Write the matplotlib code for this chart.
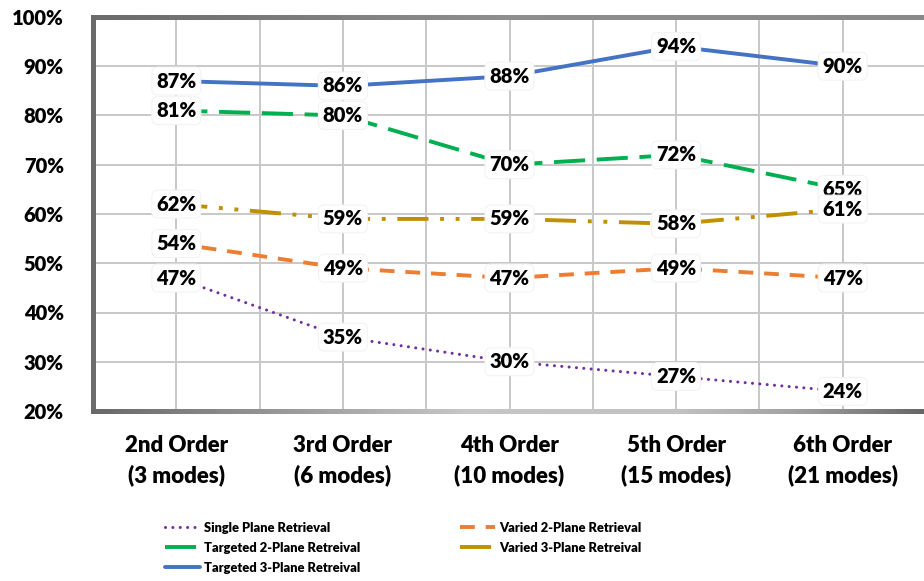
import matplotlib
matplotlib.use("Agg")
import numpy as np
import matplotlib.pyplot as plt
from matplotlib.collections import LineCollection
from matplotlib.colors import LinearSegmentedColormap
from matplotlib.ticker import FixedLocator

# ---- data -------------------------------------------------------------
categories = ["2nd Order\n(3 modes)", "3rd Order\n(6 modes)", "4th Order\n(10 modes)",
              "5th Order\n(15 modes)", "6th Order\n(21 modes)"]
single_plane = [47, 35, 30, 27, 24]
varied_2plane = [54, 49, 47, 49, 47]
targeted_2plane = [81, 80, 70, 72, 65]
varied_3plane = [62, 59, 59, 58, 61]
targeted_3plane = [87, 86, 88, 94, 90]
y_ticks = [20, 30, 40, 50, 60, 70, 80, 90, 100]

series_names = ["Single Plane Retrieval", "Varied 2-Plane Retrieval",
                "Targeted 2-Plane Retreival", "Varied 3-Plane Retreival",
                "Targeted 3-Plane Retreival"]

FONT = ["Lato", "DejaVu Sans"]
WEIGHT = "heavy"
plt.rcParams["font.family"] = FONT
plt.rcParams["font.weight"] = WEIGHT

fig = plt.figure(figsize=(9.24, 5.81), dpi=100)
W, H = 924, 581
ax = fig.add_axes([93 / W, 1 - 411 / H, 833 / W, 394 / H])

x = list(range(len(categories)))

styles = [
    dict(color="#7030A0", lw=2.2, dashes=(0.01, 2.4), dash_capstyle="round"),
    dict(color="#ED7D31", lw=2.8, dashes=(3.8, 2.8), dash_capstyle="butt"),
    dict(color="#00B050", lw=2.8, dashes=(8, 3), dash_capstyle="butt"),
    dict(color="#BF9000", lw=2.8, dashes=(8, 3, 1, 3, 1, 3), dash_capstyle="butt"),
    dict(color="#4472C4", lw=2.8, linestyle="-", solid_capstyle="round"),
]
all_series = [single_plane, varied_2plane, targeted_2plane, varied_3plane, targeted_3plane]

handles = []
for vals, st, name in zip(all_series, styles, series_names):
    ln, = ax.plot(x, vals, zorder=3, label=name, **st)
    handles.append(ln)

for vals in all_series:
    for xi, v in zip(x, vals):
        ax.text(xi, v, f"{v}%", ha="center", va="center", fontsize=14.5,
                fontweight=WEIGHT, color="black", zorder=5,
                bbox=dict(boxstyle="round,pad=0.22,rounding_size=0.3",
                          fc="white", ec="#f3f3f3", lw=0.8))

ax.set_xlim(-0.5, len(categories) - 0.5)
ax.set_ylim(20, 100)

ax.yaxis.set_major_locator(FixedLocator(y_ticks))
ax.set_yticklabels([f"{t}%" for t in y_ticks], fontsize=14.5)
ax.set_xticks(x)
ax.set_xticklabels(categories, linespacing=1.5, fontsize=16)
ax.xaxis.set_minor_locator(FixedLocator([i + 0.5 for i in x[:-1]]))

ax.tick_params(axis="both", which="both", length=0)
ax.tick_params(axis="y", pad=21)
ax.tick_params(axis="x", pad=17)

ax.grid(True, which="major", color="#c8c8c8", lw=1.4)
ax.grid(True, which="minor", axis="x", color="#c8c8c8", lw=1.4)
ax.set_axisbelow(True)

for side in ax.spines:
    ax.spines[side].set_visible(False)


# frame drawn as shaded strokes along the left, top and bottom edges
def shaded_edge(p0, p1, stops, n=240):
    t = np.linspace(0, 1, n + 1)
    xs = p0[0] + (p1[0] - p0[0]) * t
    ys = p0[1] + (p1[1] - p0[1]) * t
    segs = np.stack([np.column_stack([xs[:-1], ys[:-1]]),
                     np.column_stack([xs[1:], ys[1:]])], axis=1)
    cmap = LinearSegmentedColormap.from_list("edge", stops)
    lc = LineCollection(segs, colors=cmap((t[:-1] + t[1:]) / 2), lw=3.6,
                        transform=ax.transAxes, clip_on=False, zorder=6,
                        capstyle="projecting")
    ax.add_collection(lc)


shaded_edge((0, 0), (0, 1), [(0, "#6c6c6c"), (1, "#6a6a6a")])
shaded_edge((0, 1), (1, 1), [(0, "#6a6a6a"), (0.5, "#8e8e8e"), (1, "#888888")])
shaded_edge((0, 0), (1, 0), [(0, "#686868"), (0.45, "#c6c6c6"), (0.7, "#c2c2c2"),
                             (0.85, "#a0a0a0"), (1, "#666666")])

leg_kw = dict(frameon=False, borderpad=0, borderaxespad=0, handlelength=2.7,
              handletextpad=0.35, labelspacing=0.62, loc="upper left",
              bbox_transform=fig.transFigure,
              prop=dict(family=FONT, weight=WEIGHT, size=9.3))
leg1 = fig.legend([handles[0], handles[2], handles[4]],
                  [series_names[0], series_names[2], series_names[4]],
                  bbox_to_anchor=(165 / W, 1 - 522 / H), **leg_kw)
leg2 = fig.legend([handles[1], handles[3]],
                  [series_names[1], series_names[3]],
                  bbox_to_anchor=(460 / W, 1 - 522 / H), **leg_kw)

fig.savefig("out.png", dpi=100)
